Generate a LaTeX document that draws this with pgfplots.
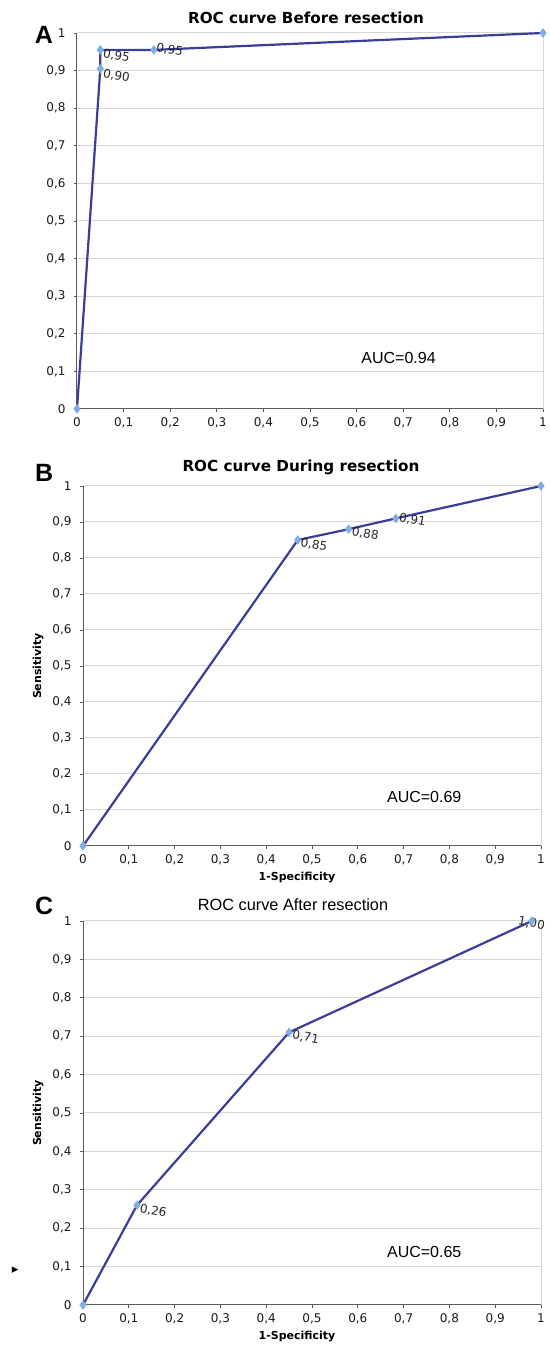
\documentclass[border=0pt]{standalone}
\usepackage{pgfplots}
\pgfplotsset{compat=1.18}
\usepackage{fontspec}
\setmainfont{DejaVu Sans}
\newfontfamily\arialfont{Liberation Sans}
\definecolor{linec}{RGB}{60,60,155}
\definecolor{markc}{RGB}{130,172,228}
\definecolor{gridc}{RGB}{215,215,215}
\definecolor{axc}{RGB}{90,90,90}
\tikzset{
  ptlab/.style={anchor=west, rotate=-10, font=\fontsize{12}{13}\selectfont, text=black!85, inner sep=1pt},
}
\pgfplotsset{
  rocstyle/.style={
    scale only axis,
    xmin=0, xmax=1, ymin=0, ymax=1,
    xtick={0,0.1,...,1.01}, ytick={0,0.1,...,1.01},
    /pgf/number format/use comma,
    /pgf/number format/assume math mode=true,
    tick label style={font=\fontsize{12}{13}\selectfont, text=black!90},
    xticklabel style={yshift=-2pt},
    yticklabel style={xshift=-5pt},
    axis lines*=left,
    axis line style={draw=axc, line width=1pt, -},
    tick style={draw=axc, line width=0.8pt},
    tick align=outside,
    major tick length=3pt,
    ymajorgrids,
    grid style={draw=gridc, line width=1pt},
    clip=false,
    title style={font=\bfseries\fontsize{15.2}{17}\selectfont},
    label style={font=\bfseries\fontsize{11}{12}\selectfont},
  },
  rocline/.style={color=linec, line width=2.2pt, mark=diamond*, mark size=3pt,
    mark options={fill=markc, draw=markc}},
}
\begin{document}
\begin{tikzpicture}[x=1pt,y=1pt]
\path[use as bounding box] (0,0) rectangle (549,1352);
% Panel A
\begin{axis}[rocstyle, at={(77pt,943pt)}, anchor=south west,
  width=466pt, height=376pt,
  title={ROC curve Before resection}, title style={yshift=0pt, xshift=-4pt}]
\draw[gridc, line width=1pt] (rel axis cs:1,0) -- (rel axis cs:1,1);
\addplot[rocline] coordinates {(0,0) (0.05,0.905) (0.05,0.955) (0.165,0.955) (1,1)};
\node[ptlab] at (axis cs:0.054,0.946) {0,95};
\node[ptlab] at (axis cs:0.054,0.893) {0,90};
\node[ptlab] at (axis cs:0.168,0.962) {0,95};
\node[font=\arialfont\fontsize{16}{18}\selectfont] at (axis cs:0.69,0.135) {AUC=0.94};
\node[font=\arialfont\bfseries\fontsize{25}{26}\selectfont] at (axis cs:-0.071,0.995) {A};
\end{axis}
% Panel B
\begin{axis}[rocstyle, at={(83pt,506pt)}, anchor=south west,
  width=458pt, height=360pt,
  title={ROC curve During resection}, title style={yshift=2pt, xshift=-11pt},
  xlabel={1-Specificity}, ylabel={Sensitivity},
  xlabel style={yshift=0pt, xshift=-15pt}, ylabel style={yshift=2pt}]
\draw[gridc, line width=1pt] (rel axis cs:1,0) -- (rel axis cs:1,1);
\addplot[rocline] coordinates {(0,0) (0.469,0.85) (0.58,0.88) (0.683,0.91) (1,1)};
\node[ptlab] at (axis cs:0.473,0.843) {0,85};
\node[ptlab] at (axis cs:0.585,0.873) {0,88};
\node[ptlab] at (axis cs:0.688,0.912) {0,91};
\node[font=\arialfont\fontsize{16}{18}\selectfont] at (axis cs:0.745,0.135) {AUC=0.69};
\node[font=\arialfont\bfseries\fontsize{25}{26}\selectfont] at (axis cs:-0.085,1.035) {B};
\end{axis}
% Panel C
\begin{axis}[rocstyle, at={(83pt,47pt)}, anchor=south west,
  width=458pt, height=384pt,
  title={ROC curve After resection}, title style={yshift=1pt, xshift=-19pt, font=\arialfont\fontsize{16.3}{18}\selectfont},
  xlabel={1-Specificity}, ylabel={Sensitivity},
  xlabel style={yshift=0pt, xshift=-15pt}, ylabel style={yshift=2pt}]
\draw[gridc, line width=1pt] (rel axis cs:1,0) -- (rel axis cs:1,1);
\addplot[rocline] coordinates {(0,0) (0.118,0.26) (0.45,0.71) (0.98,1)};
\node[ptlab] at (axis cs:0.122,0.252) {0,26};
\node[ptlab] at (axis cs:0.455,0.703) {0,71};
\node[ptlab] at (axis cs:0.948,1.0) {1,00};
\node[font=\arialfont\fontsize{16}{18}\selectfont] at (axis cs:0.745,0.138) {AUC=0.65};
\node[font=\arialfont\bfseries\fontsize{25}{26}\selectfont] at (axis cs:-0.085,1.04) {C};
\node[font=\fontsize{13}{13}\selectfont] at (axis cs:-0.148,0.09) {▸};
\end{axis}
\end{tikzpicture}
\end{document}
